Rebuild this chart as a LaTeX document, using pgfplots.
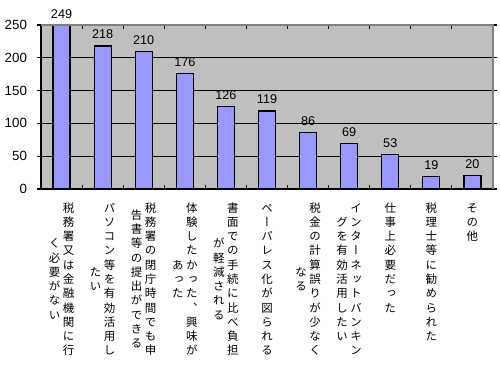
\documentclass[border=0pt]{standalone}
\usepackage{pgfplots}
\pgfplotsset{compat=1.18}
\usepackage{fontspec}
\setmainfont{Liberation Sans}
\newfontfamily\cjk[RawFeature={+vert}]{Noto Sans CJK JP}
\definecolor{plotbg}{rgb}{0.75,0.75,0.76}
\definecolor{barfill}{RGB}{153,153,255}
\def\vcolloop#1{\ifx\relax#1\else\hbox to 10.5pt{\hss\vrule height 8.2pt depth 2.5pt width 0pt\relax#1\hss}\expandafter\vcolloop\fi}
\def\vcol#1{$\vcenter{\offinterlineskip\vcolloop#1\relax}$}
\newcommand\vlab[2]{\hbox{\cjk\fontsize{8.6}{10}\selectfont\vcol{#2}\vcol{#1}}}
\begin{document}
\begin{tikzpicture}
\fill[plotbg] (0,0) rectangle (339pt,123pt);
\begin{axis}[
  name=ax, at={(0,0)}, anchor=south west,
  width=339pt, height=123pt, scale only axis,
  xmin=-0.5, xmax=10.5, ymin=0, ymax=250,
  clip=false,
  axis line style={draw=black, line width=1pt},
  ybar, bar width=12.75pt,
  ytick={0,50,...,250},
  ymajorgrids=true,
  major grid style={draw=black, line width=1pt},
  yticklabel style={font=\fontsize{10}{12}\selectfont, xshift=-4pt},
  /pgf/number format/assume math mode=true,
  major tick length=3pt,
  tick style={black, line width=0.8pt},
  tick align=outside,
  xtick={0,...,10},
  xticklabels={
    \vlab{税務署又は金融機関に行}{く必要がない},
    \vlab{パソコン等を有効活用し}{たい},
    \vlab{税務署の閉庁時間でも申}{告書等の提出ができる},
    \vlab{体験したかった、興味が}{あった},
    \vlab{書面での手続に比べ負担}{が軽減される},
    \vlab{ペーパレス化が図られる}{},
    \vlab{税金の計算誤りが少なく}{なる},
    \vlab{インターネットバンキン}{グを有効活用したい},
    \vlab{仕事上必要だった}{},
    \vlab{税理士等に勧められた}{},
    \vlab{その他}{}},
  xticklabel style={anchor=north, inner sep=0pt, yshift=-6pt},
  x tick style={draw=none},
  extra x ticks={0.5,1.5,...,9.5},
  extra x tick labels={},
  extra x tick style={tick align=inside, x tick style={draw=black}},
  nodes near coords,
  nodes near coords style={font=\fontsize{9.5}{11}\selectfont, black, yshift=1.5pt},
]
\addplot[fill=barfill, draw=black, line width=0.9pt] coordinates {
  (0,249) (1,218) (2,210) (3,176) (4,126) (5,119) (6,86) (7,69) (8,53) (9,19) (10,20)};
\end{axis}
\draw[gray, line width=0.8pt] (0,123pt) -- (339pt,123pt) -- (339pt,0);
\path (-30.75pt,-133.5pt) rectangle (344.25pt,141.75pt);
\end{tikzpicture}
\end{document}
